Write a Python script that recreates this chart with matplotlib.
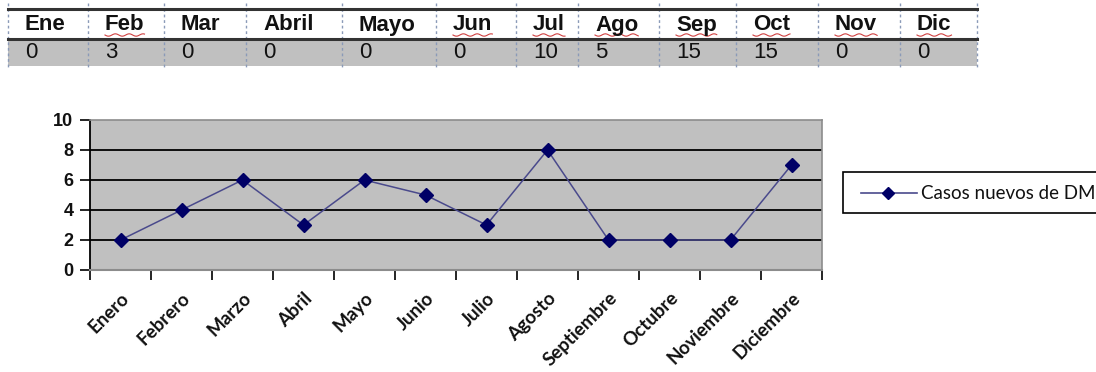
import numpy as np
import matplotlib
matplotlib.use("Agg")
import matplotlib.pyplot as plt
from matplotlib.patches import Rectangle
from matplotlib.lines import Line2D

# ---- data ----
table_headers = ["Ene", "Feb", "Mar", "Abril", "Mayo", "Jun", "Jul", "Ago", "Sep", "Oct", "Nov", "Dic"]
table_values = [0, 3, 0, 0, 0, 0, 10, 5, 15, 15, 0, 0]
spell_flagged = ["Feb", "Jun", "Jul", "Ago", "Sep", "Oct", "Nov", "Dic"]

months = ["Enero", "Febrero", "Marzo", "Abril", "Mayo", "Junio", "Julio",
          "Agosto", "Septiembre", "Octubre", "Noviembre", "Diciembre"]
casos_nuevos = [2, 4, 6, 3, 6, 5, 3, 8, 2, 2, 2, 7]
series_name = "Casos nuevos de DM"
y_ticks = [0, 2, 4, 6, 8, 10]

W, H = 1096, 372
fig = plt.figure(figsize=(W / 100, H / 100), dpi=100)
fig.patch.set_facecolor("white")


def fx(x):
    return np.asarray(x) / W


def fy(y):
    return 1 - np.asarray(y) / H


# ---- spreadsheet strip at the top ----
col_edges = [8, 88, 164, 246, 342, 436, 516, 578, 659, 736, 818, 900, 977]
row_top, row_mid, row_bot = 9, 39, 66

fig.patches.append(Rectangle((fx(col_edges[0]), fy(row_bot)),
                             fx(col_edges[-1] - col_edges[0]), (row_bot - row_mid) / H,
                             transform=fig.transFigure, facecolor="#c0c0c0",
                             edgecolor="none", zorder=1))
for yy in (row_top, row_mid):
    fig.add_artist(Line2D([fx(col_edges[0]), fx(col_edges[-1])], [fy(yy), fy(yy)],
                          transform=fig.transFigure, color="#333333", lw=2.2, zorder=3))
for xe in col_edges:
    fig.add_artist(Line2D([fx(xe), fx(xe)], [fy(row_top - 6), fy(row_bot + 2)],
                          transform=fig.transFigure, color="#8a9ab8", lw=1.0,
                          ls=(0, (2, 2)), zorder=2))

header_texts = []
for i, (hdr, val) in enumerate(zip(table_headers, table_values)):
    x0 = col_edges[i] + 17
    t = fig.text(fx(x0), fy(row_top + 16), hdr, ha="left", va="center",
                 fontsize=16, fontweight="bold", family="Liberation Sans",
                 color="#111111", zorder=4)
    header_texts.append(t)
    fig.text(fx(x0), fy(row_mid + 13), str(val), ha="left", va="center",
             fontsize=16, family="Liberation Sans", color="#111111", zorder=4)

# red spell-check squiggles under the flagged month abbreviations
renderer = fig.canvas.get_renderer()
for t in header_texts:
    if t.get_text() in spell_flagged:
        bb = t.get_window_extent(renderer)
        n = 30
        xs = np.linspace(bb.x0, bb.x1, n)
        ys = (row_mid - 4) + 1.2 * np.sin(np.linspace(0, (bb.x1 - bb.x0) / 2.2, n))
        fig.add_artist(Line2D(fx(xs), fy(ys), transform=fig.transFigure,
                              color="#d04040", lw=0.8, zorder=4))

# ---- line chart ----
ax_left, ax_right, ax_top, ax_bottom = 90, 822, 120, 270
ax = fig.add_axes([fx(ax_left), fy(ax_bottom), fx(ax_right - ax_left),
                   (ax_bottom - ax_top) / H])
ax.set_facecolor("#c0c0c0")

x = np.arange(len(months))
ax.plot(x, casos_nuevos, color="#4a4a8c", lw=1.1, zorder=3)
ax.plot(x, casos_nuevos, ls="none", marker="D", ms=7, color="#000066", zorder=4)

ax.set_xlim(-0.5, len(months) - 0.5)
ax.set_ylim(0, 10)
ax.set_yticks(y_ticks)
ax.set_yticklabels([str(t) for t in y_ticks], fontsize=13, fontweight="bold",
                   family="Liberation Sans", color="#111111")
for t in y_ticks[1:-1]:
    ax.axhline(t, color="black", lw=1.3, zorder=2)

ax.set_xticks(np.arange(-0.5, len(months), 1.0))
ax.set_xticklabels([])
ax.set_xticks(x, minor=True)
ax.set_xticklabels(months, minor=True, rotation=45, ha="right",
                   rotation_mode="anchor", fontsize=13.5, fontweight="bold",
                   family="Lato", color="#111111")
ax.tick_params(axis="x", which="major", direction="out", length=7, width=1.2,
               color="black")
ax.tick_params(axis="x", which="minor", length=0, pad=14)
ax.tick_params(axis="y", direction="out", length=7, width=1.2, color="black", pad=5)

for side in ["top", "right"]:
    ax.spines[side].set_color("#8c8c8c")
    ax.spines[side].set_linewidth(1.2)
ax.spines["left"].set_color("black")
ax.spines["left"].set_linewidth(1.3)
ax.spines["bottom"].set_color("#8c8c8c")
ax.spines["bottom"].set_linewidth(1.5)

# ---- legend box ----
lg_left, lg_top, lg_bot = 843, 172, 213
fig.patches.append(Rectangle((fx(lg_left), fy(lg_bot)), fx(W + 20 - lg_left),
                             (lg_bot - lg_top) / H, transform=fig.transFigure,
                             facecolor="white", edgecolor="black", lw=1.2, zorder=5))
lg_y = (lg_top + lg_bot) / 2
fig.add_artist(Line2D([fx(861), fx(917)], [fy(lg_y), fy(lg_y)],
                      transform=fig.transFigure, color="#4a4a8c", lw=1.2, zorder=6))
fig.add_artist(Line2D([fx(888)], [fy(lg_y)], transform=fig.transFigure, ls="none",
                      marker="D", ms=6.5, color="#000066", zorder=7))
fig.text(fx(921), fy(lg_y + 1), series_name, ha="left", va="center", fontsize=13.5,
         family="Lato", color="#111111", zorder=7)

fig.savefig("out.png", dpi=100)
